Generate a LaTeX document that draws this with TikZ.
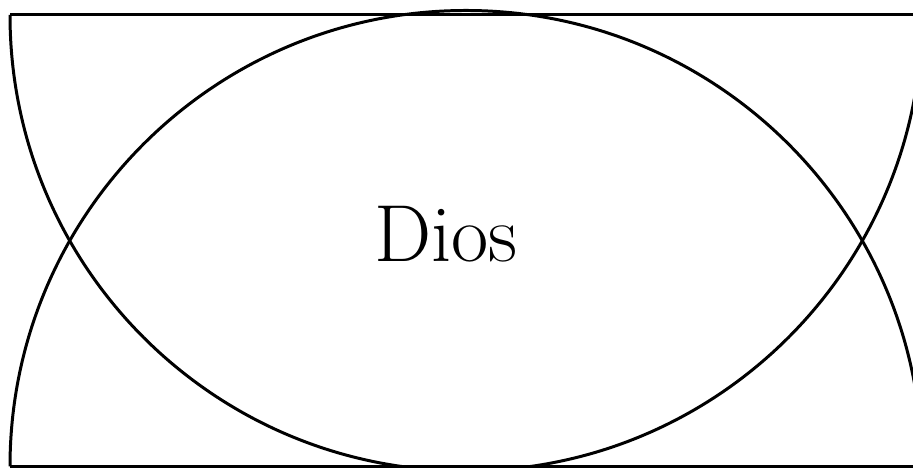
\documentclass[tikz,border=0pt]{standalone}
\begin{document}
\begin{tikzpicture}[x=0.01cm,y=0.01cm,
  outline/.style={draw=black,line width=0.85pt},
  label/.style={font=\fontsize{23}{27}\selectfont,inner sep=0pt,anchor=base}]
\useasboundingbox (0,0) rectangle (913,468);
\clip (0,0) rectangle (913,468);
\coordinate (tl) at (10,453);
\coordinate (tr) at (922,453);
\coordinate (bl) at (10,1.5);
\coordinate (br) at (922,1.5);
\draw[outline] (tl) -- (tr);
\draw[outline] (bl) -- (br);
\draw[outline] (tl) arc[start angle=180,end angle=360,radius=456];
\draw[outline] (bl) arc[start angle=180,end angle=0,radius=456];
\node[label] (dios) at (446,206) {Dios};
\end{tikzpicture}
\end{document}
